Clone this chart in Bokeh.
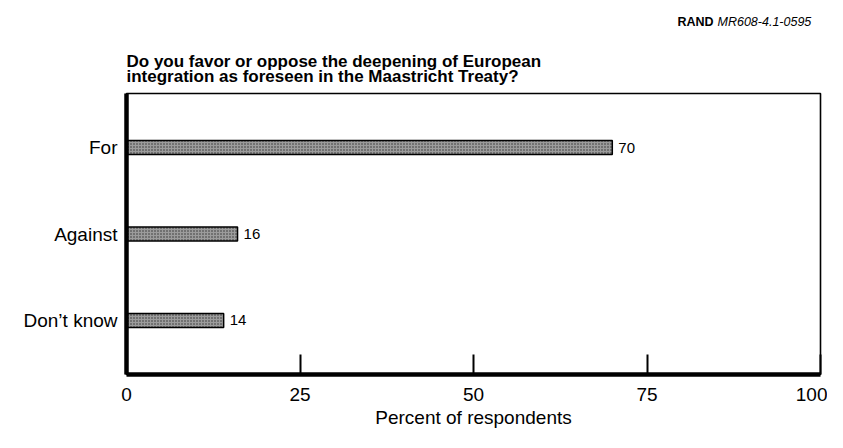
from bokeh.plotting import figure
from bokeh.models import FactorRange, Range1d, FixedTicker, Label, ColumnDataSource
from bokeh.layouts import column
from bokeh.core.properties import value
from bokeh.embed import file_html
from bokeh.resources import INLINE

# ---- data ----
categories = ["Don\u2019t know", "Against", "For"]
percents = [14, 16, 70]
x_ticks = [0, 25, 50, 75, 100]
title_lines = ["Do you favor or oppose the deepening of European",
               "integration as foreseen in the Maastricht Treaty?"]
source_tag_bold = "RAND"
source_tag_italic = "MR608-4.1-0595"
x_axis_title = "Percent of respondents"

FONT = "Liberation Sans"
W = 827
LEFT, RIGHT = 126, 7
HEAD_H = 88
MAIN_H = 432 - HEAD_H
TOP = 5

# ---- header figure (title + source tag) ----
head = figure(width=W, height=HEAD_H, output_backend="svg", toolbar_location=None,
              x_range=Range1d(LEFT, W - RIGHT), y_range=Range1d(HEAD_H, TOP),
              min_border_left=LEFT, min_border_right=RIGHT,
              min_border_top=TOP, min_border_bottom=0)
head.axis.visible = False
head.grid.grid_line_color = None
head.outline_line_color = None
head.background_fill_color = "white"
head.border_fill_color = "white"

head.add_layout(Label(x=126, y=61, text=title_lines[0], text_font=FONT,
                      text_font_size="17px", text_font_style="bold",
                      text_color="black", text_baseline="alphabetic"))
head.add_layout(Label(x=126, y=76, text=title_lines[1], text_font=FONT,
                      text_font_size="17px", text_font_style="bold",
                      text_color="black", text_baseline="alphabetic"))
head.add_layout(Label(x=713, y=21, text=source_tag_bold, text_font=FONT,
                      text_font_size="12.5px", text_font_style="bold",
                      text_color="black", text_align="right",
                      text_baseline="alphabetic"))
head.add_layout(Label(x=717, y=21, text=source_tag_italic, text_font=FONT,
                      text_font_size="12.5px", text_font_style="italic",
                      text_color="black", text_align="left",
                      text_baseline="alphabetic"))

# ---- main chart ----
src = ColumnDataSource(dict(cat=categories, val=percents,
                            lbl=[str(v) for v in percents]))

p = figure(width=W, height=MAIN_H, output_backend="svg", toolbar_location=None,
           y_range=FactorRange(factors=categories, range_padding=0.25 / 3),
           x_range=Range1d(0, 100),
           min_border_left=LEFT, min_border_right=RIGHT,
           min_border_top=TOP, min_border_bottom=58)

p.background_fill_color = "white"
p.border_fill_color = "white"
p.outline_line_color = "black"
p.outline_line_width = 1.6
p.xgrid.grid_line_color = None
p.ygrid.grid_line_color = None

p.hbar(y="cat", right="val", left=0, height=0.16, source=src,
       fill_color="#9c9c9c", line_color="black", line_width=1.5,
       hatch_pattern="dot", hatch_color="#2e2e2e", hatch_scale=3, hatch_weight=1)

p.text(x="val", y="cat", text="lbl", source=src, x_offset=6,
       text_baseline="middle", text_align="left",
       text_font=value(FONT), text_font_size="15px", text_color="black")

# x axis
xa = p.xaxis[0]
xa.ticker = FixedTicker(ticks=x_ticks)
xa.axis_line_width = 4.5
xa.axis_line_color = "black"
xa.major_tick_in = 20
xa.major_tick_out = 0
xa.major_tick_line_width = 2
xa.minor_tick_line_color = None
xa.major_label_standoff = 13
xa.major_label_text_font = FONT
xa.major_label_text_font_size = "19px"
xa.major_label_text_color = "black"
xa.axis_label = x_axis_title
xa.axis_label_standoff = 3
xa.axis_label_text_font = FONT
xa.axis_label_text_font_size = "19px"
xa.axis_label_text_font_style = "normal"
xa.axis_label_text_color = "black"

# y axis
ya = p.yaxis[0]
ya.axis_line_width = 4.5
ya.axis_line_color = "black"
ya.major_tick_in = 0
ya.major_tick_out = 0
ya.minor_tick_line_color = None
ya.major_label_standoff = 9
ya.major_label_text_font = FONT
ya.major_label_text_font_size = "19px"
ya.major_label_text_color = "black"

layout = column(head, p, spacing=0)
open("out.html", "w").write(file_html(layout, INLINE))
